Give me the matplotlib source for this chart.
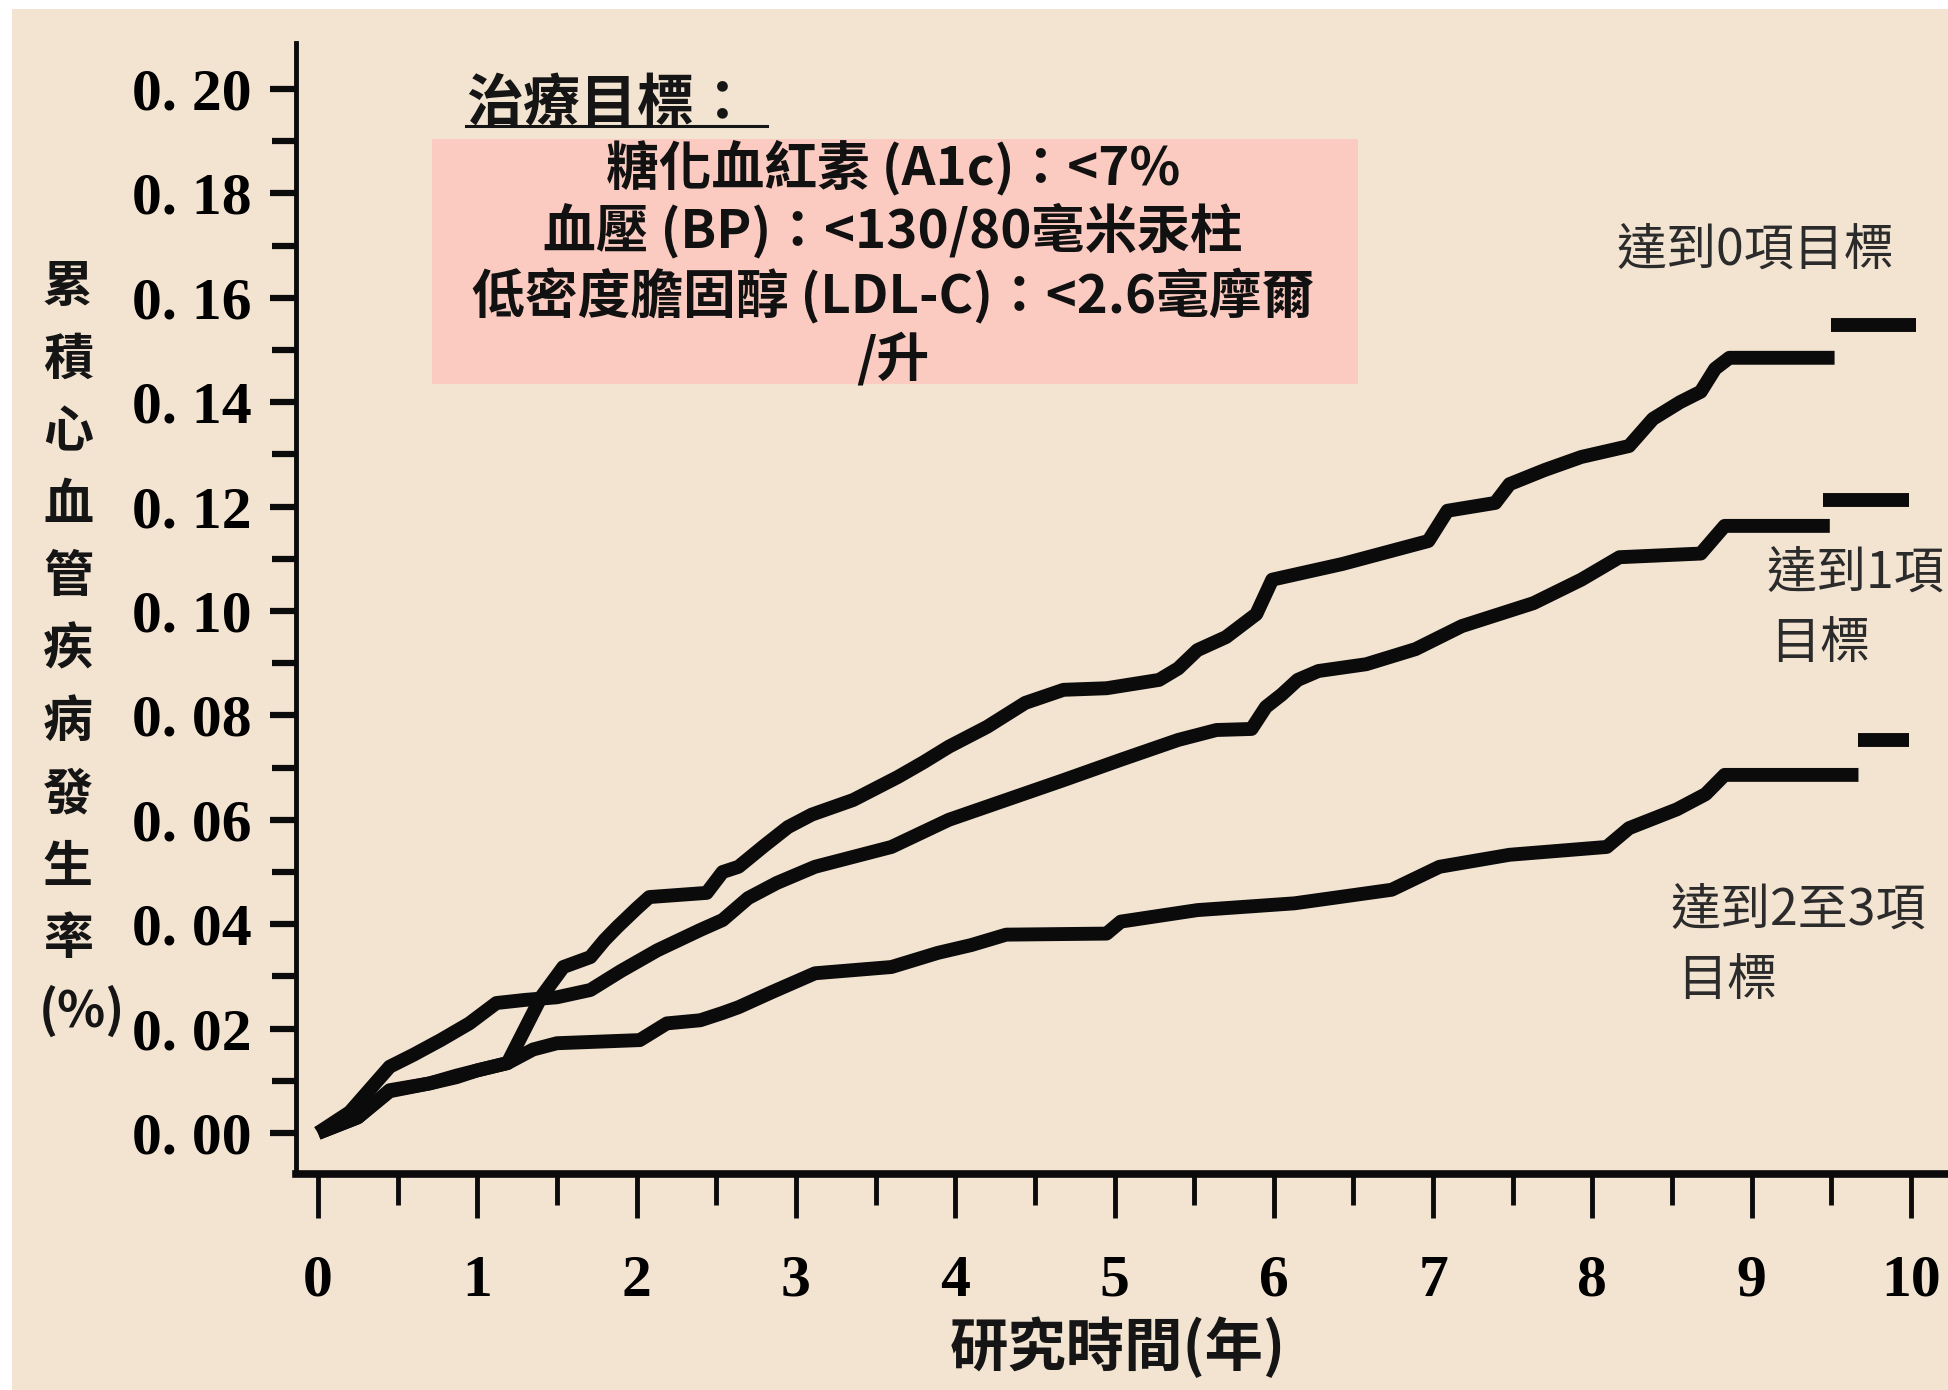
import matplotlib
matplotlib.use("Agg")
import matplotlib.pyplot as plt
from matplotlib.patches import Rectangle
from matplotlib.lines import Line2D

# ---------------- data ----------------
# cumulative CVD incidence, reached 0 goals
t_goal0 = [0.00, 0.25, 0.45, 0.70, 0.87, 1.00, 1.19, 1.30, 1.40, 1.54, 1.71, 1.80, 1.88,
           2.00, 2.08, 2.44, 2.54, 2.64, 2.80, 2.95, 3.10, 3.36, 3.64, 3.80, 3.96, 4.20,
           4.44, 4.68, 4.95, 5.28, 5.40, 5.52, 5.70, 5.89, 5.99, 6.43, 6.97, 7.09, 7.39,
           7.48, 7.70, 7.93, 8.23, 8.38, 8.55, 8.68, 8.77, 8.86, 9.52]
r_goal0 = [0.000, 0.003, 0.008, 0.0095, 0.011, 0.012, 0.0134, 0.020, 0.026, 0.0318, 0.0337, 0.037, 0.0395,
           0.043, 0.0452, 0.046, 0.050, 0.051, 0.055, 0.0586, 0.061, 0.0638, 0.0682, 0.071, 0.074, 0.0778,
           0.0824, 0.0849, 0.0852, 0.0868, 0.089, 0.0925, 0.095, 0.0994, 0.106, 0.109, 0.1134, 0.1192, 0.1207,
           0.1243, 0.127, 0.1295, 0.1316, 0.1368, 0.140, 0.142, 0.1464, 0.1485, 0.1485]
tail_goal0 = [9.50, 10.03, 0.1548]

# reached 1 goal
t_goal1 = [0.00, 0.20, 0.45, 0.60, 0.77, 0.95, 1.12, 1.30, 1.50, 1.71, 1.90, 2.13, 2.40,
           2.54, 2.70, 2.88, 3.12, 3.60, 3.96, 4.32, 4.68, 5.04, 5.40, 5.64, 5.86, 5.95, 6.05,
           6.15, 6.28, 6.58, 6.89, 7.18, 7.63, 7.93, 8.17, 8.68, 8.83, 9.49]
r_goal1 = [0.000, 0.004, 0.0127, 0.015, 0.0178, 0.021, 0.0249, 0.0255, 0.026, 0.0274, 0.031, 0.035, 0.0389,
           0.0408, 0.045, 0.0479, 0.051, 0.0548, 0.060, 0.0638, 0.0676, 0.0715, 0.0753, 0.0772, 0.0774, 0.0816, 0.084,
           0.0868, 0.0885, 0.0898, 0.0927, 0.0971, 0.1015, 0.106, 0.1103, 0.111, 0.1163, 0.1163]
tail_goal1 = [9.45, 9.99, 0.1213]

# reached 2 to 3 goals
t_goal23 = [0.00, 0.25, 0.45, 0.70, 0.87, 1.00, 1.19, 1.35, 1.50, 2.02, 2.19, 2.40, 2.54,
            2.64, 2.85, 3.12, 3.60, 3.89, 4.10, 4.32, 4.95, 5.04, 5.52, 6.13, 6.74, 7.04, 7.48,
            8.09, 8.23, 8.53, 8.71, 8.83, 9.67]
r_goal23 = [0.000, 0.003, 0.0082, 0.0095, 0.0107, 0.012, 0.0134, 0.016, 0.0172, 0.0178, 0.021, 0.0216, 0.023,
            0.0241, 0.027, 0.0306, 0.0318, 0.0345, 0.036, 0.038, 0.0382, 0.0405, 0.0427, 0.044, 0.0466, 0.051, 0.0533,
            0.0548, 0.0584, 0.062, 0.0649, 0.0686, 0.0686]
tail_goal23 = [9.67, 9.99, 0.0753]

y_ticks = [0.00, 0.02, 0.04, 0.06, 0.08, 0.10, 0.12, 0.14, 0.16, 0.18, 0.20]
y_tick_labels = ["0. 00", "0. 02", "0. 04", "0. 06", "0. 08", "0. 10",
                 "0. 12", "0. 14", "0. 16", "0. 18", "0. 20"]
x_ticks = [0, 1, 2, 3, 4, 5, 6, 7, 8, 9, 10]
x_tick_labels = ["0", "1", "2", "3", "4", "5", "6", "7", "8", "9", "10"]

y_label_chars = ["累", "積", "心", "血", "管", "疾", "病", "發", "生", "率", "(%)"]
x_label = "研究時間(年)"
box_title = "治療目標："
box_lines = ["糖化血紅素 (A1c)：<7%",
             "血壓 (BP)：<130/80毫米汞柱",
             "低密度膽固醇 (LDL-C)：<2.6毫摩爾",
             "/升"]

# ---------------- styling ----------------
W, H = 1948, 1390
BG = "#F3E4D2"
PINK = "#FBCBC1"
INK = "#0b0b0b"
CJK = ["Noto Sans CJK TC", "DejaVu Sans"]
NUM = ["Liberation Serif", "DejaVu Serif"]

fig = plt.figure(figsize=(W / 100, H / 100), dpi=100)
fig.patch.set_facecolor("white")

def fx(px):
    return px / W

def fy(py):
    return 1 - py / H

bg = Rectangle((12 / W, 0), 1 - 12 / W, 1 - 9 / H, transform=fig.transFigure,
               facecolor=BG, edgecolor="none", zorder=-10)
fig.patches.append(bg)
pink = Rectangle((fx(432), fy(384)), fx(1358) - fx(432), fy(139) - fy(384),
                 transform=fig.transFigure, facecolor=PINK, edgecolor="none", zorder=-5)
fig.patches.append(pink)

ax = fig.add_axes([fx(296), fy(1174), 1 - fx(296), fy(43) - fy(1174)])
ax.set_zorder(1)
ax.set_facecolor("none")
ax.patch.set_alpha(0)
ax.set_xlim(-0.138, 10.232)
ax.set_ylim(-0.00785, 0.2088)

for sp in ["top", "right"]:
    ax.spines[sp].set_visible(False)
ax.spines["left"].set_linewidth(3.5)
ax.spines["bottom"].set_linewidth(5.5)
ax.spines["left"].set_color(INK)
ax.spines["bottom"].set_color(INK)

ax.set_yticks(y_ticks)
ax.set_yticks([v + 0.01 for v in y_ticks[:-1]], minor=True)
ax.set_yticklabels(y_tick_labels, fontfamily=NUM, fontweight="bold", fontsize=43)
ax.set_xticks(x_ticks)
ax.set_xticks([v + 0.5 for v in x_ticks[:-1]], minor=True)
ax.set_xticklabels(x_tick_labels, fontfamily=NUM, fontweight="bold", fontsize=43)

ax.tick_params(axis="y", which="major", length=19, width=4.5, pad=13, direction="out", color=INK)
ax.tick_params(axis="y", which="minor", length=17, width=4.5, direction="out", color=INK)
ax.tick_params(axis="x", which="major", length=32, width=3.5, pad=26, direction="out", color=INK)
ax.tick_params(axis="x", which="minor", length=22, width=3.5, direction="out", color=INK)

LW = 10
style = dict(color=INK, lw=LW, solid_joinstyle="round", solid_capstyle="butt", zorder=3)
for t, r, tail in [(t_goal0, r_goal0, tail_goal0),
                   (t_goal1, r_goal1, tail_goal1),
                   (t_goal23, r_goal23, tail_goal23)]:
    ax.plot(t, r, **style)
    ax.plot(tail[:2], [tail[2], tail[2]], **style)

# y axis label, stacked characters
for i, ch in enumerate(y_label_chars):
    xx = 68 if ch != "(%)" else 82
    fig.text(fx(xx), fy(288 + i * 72.4), ch, family=CJK, fontweight="bold", fontsize=36,
             ha="center", va="center", color="#151515", zorder=5)

# x axis label
fig.text(fx(1118), fy(1348), x_label, family=CJK, fontweight="bold", fontsize=42,
         ha="center", va="center", color="#151515", zorder=5)

# treatment-goal box texts
fig.text(fx(466), fy(104), box_title, family=CJK, fontweight="bold", fontsize=41,
         ha="left", va="center", color="#151515", zorder=5)
fig.add_artist(Line2D([fx(466), fx(767)], [fy(126), fy(126)], transform=fig.transFigure,
                      color="#151515", lw=2.2, zorder=5))
for yy, line in zip([168, 231, 296, 360], box_lines):
    fig.text(fx(893), fy(yy), line, family=CJK, fontweight="bold", fontsize=38,
             ha="center", va="center", color="#111111", zorder=5)

# curve labels on the right
lab = dict(family=CJK, fontsize=36, ha="left", va="center", color="#2b2b2b", zorder=5)
fig.text(fx(1617), fy(251), "達到0項目標", **lab)
fig.text(fx(1767), fy(574), "達到1項", **lab)
fig.text(fx(1770), fy(644), "目標", **lab)
fig.text(fx(1671), fy(911), "達到2至3項", **lab)
fig.text(fx(1677), fy(981), "目標", **lab)

fig.savefig("out.png", dpi=100, facecolor=fig.get_facecolor())
